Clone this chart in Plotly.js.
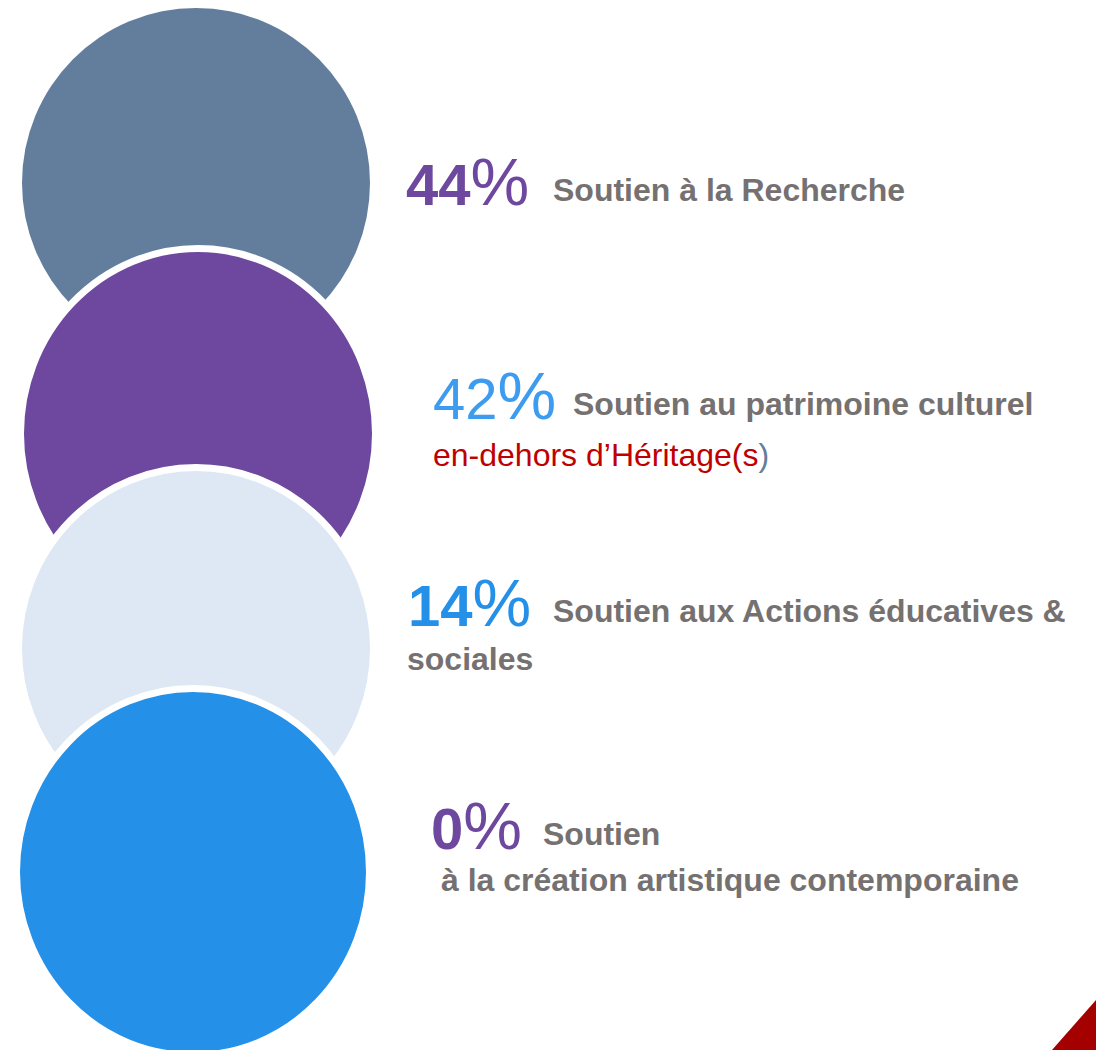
<!DOCTYPE html>
<html>
<head>
<meta charset="utf-8">
<script src="https://cdn.plot.ly/plotly-3.0.1.min.js"></script>
<style>html,body{margin:0;padding:0;background:#fff;}#chart{width:1096px;height:1050px;}</style>
</head>
<body>
<div id="chart"></div>
<script>
// ---- data ----
const percents = [44, 42, 14, 0];
const labelLine1 = ["Soutien à la Recherche", "Soutien au patrimoine culturel", "Soutien aux Actions éducatives &", "Soutien"];
const labelLine2 = ["", "en-dehors d’Héritage(s", "sociales", "à la création artistique contemporaine"];

// ---- styles ----
const circleColors = ["#637E9C", "#6D489E", "#DDE8F4", "#2590E8"];
const pctColors = ["#6D489E", "#3D9BF0", "#2590E8", "#6D489E"];
const pctBold = [true, false, true, true];
const line2Colors = ["#767171", "#C00000", "#767171", "#767171"];
const line2Bold = [true, false, true, true];
const gray = "#767171";
const FONT = "Liberation Sans, Arial, sans-serif";

// layout geometry (pixels): visible fill bounds of each disc
const circ = [
  {x0: 22, x1: 370, y0: 8, y1: 358},
  {x0: 24, x1: 372, y0: 252, y1: 615},
  {x0: 22, x1: 370, y0: 471, y1: 826},
  {x0: 20, x1: 366, y0: 692, y1: 1052}
];
const pctPos = [{x: 405, y: 201}, {x: 432, y: 415}, {x: 407, y: 622}, {x: 430, y: 845}];
const l1Pos = [{x: 552, y: 201}, {x: 572, y: 415}, {x: 552, y: 622}, {x: 542, y: 845}];
const l2Pos = [null, {x: 432, y: 466}, {x: 406, y: 670}, {x: 440, y: 891}];

const OUT = 7;
const shapes = circ.map((c, i) => {
  if (i === 0) {
    return {type: "circle", xref: "x", yref: "y", x0: c.x0, x1: c.x1, y0: c.y0, y1: c.y1,
      fillcolor: circleColors[i], line: {width: 0}, layer: "above"};
  }
  const h = OUT / 2;
  return {type: "circle", xref: "x", yref: "y", x0: c.x0 - h, x1: c.x1 + h, y0: c.y0 - h, y1: c.y1 + h,
    fillcolor: circleColors[i], line: {color: "#ffffff", width: OUT}, layer: "above"};
});
shapes.push({type: "path", xref: "x", yref: "y", path: "M 1052 1050 L 1096 1000 L 1096 1050 Z",
  fillcolor: "#A50000", line: {width: 0}, layer: "above"});

const PS = 58, PCT = 66, LS = 32, L2S = 32;
const annotations = [];
percents.forEach((p, i) => {
  const digits = pctBold[i] ? "<b>" + p + "</b>" : String(p);
  const num = digits + '<span style="font-size:' + PCT + 'px">%</span>';
  annotations.push({x: pctPos[i].x, y: pctPos[i].y - 0.36 * PS + 2, xref: "x", yref: "y", xanchor: "left", yanchor: "middle",
    text: num, showarrow: false, font: {family: FONT, size: PS, color: pctColors[i]}, borderpad: 0});
  annotations.push({x: l1Pos[i].x, y: l1Pos[i].y - 0.36 * LS + 1, xref: "x", yref: "y", xanchor: "left", yanchor: "middle",
    text: "<b>" + labelLine1[i] + "</b>", showarrow: false, font: {family: FONT, size: LS, color: gray}, borderpad: 0});
  if (labelLine2[i]) {
    let t = labelLine2[i];
    if (i === 1) t = t + '<span style="color:#637E9C">)</span>';
    if (line2Bold[i]) t = "<b>" + t + "</b>";
    annotations.push({x: l2Pos[i].x, y: l2Pos[i].y - 0.36 * L2S + 1, xref: "x", yref: "y", xanchor: "left", yanchor: "middle",
      text: t, showarrow: false, font: {family: FONT, size: L2S, color: line2Colors[i]}, borderpad: 0});
  }
});

const layout = {
  width: 1096, height: 1050,
  margin: {l: 0, r: 0, t: 0, b: 0},
  paper_bgcolor: "#ffffff", plot_bgcolor: "#ffffff",
  xaxis: {range: [0, 1096], visible: false, fixedrange: true},
  yaxis: {range: [1050, 0], visible: false, fixedrange: true},
  showlegend: false,
  shapes: shapes,
  annotations: annotations
};
Plotly.newPlot("chart", [{x: [], y: [], type: "scatter", mode: "markers", hoverinfo: "skip"}], layout, {displayModeBar: false, staticPlot: true});
</script>
</body>
</html>
